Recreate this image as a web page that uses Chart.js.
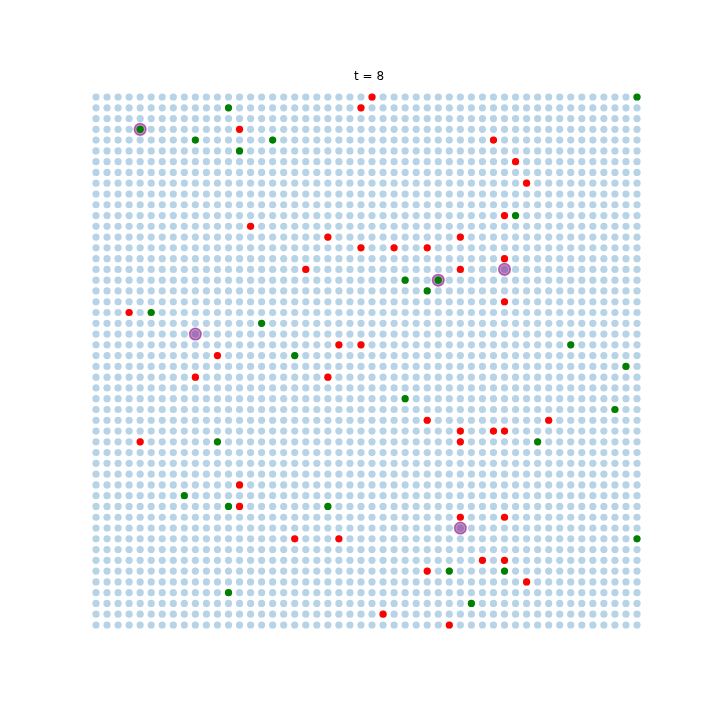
<!DOCTYPE html>
<html><head><meta charset="utf-8">
<script src="https://cdn.jsdelivr.net/npm/chart.js@4.4.0/dist/chart.umd.min.js"></script>
<style>html,body{margin:0;padding:0;background:#fff;}#wrap{width:720px;height:720px;}</style>
</head><body><div id="wrap"><canvas id="c" width="720" height="720"></canvas></div>
<script>
const titleText = "t = 8";
const gridCols = 50;
const gridRows = 50;
const redCells = [[25,0],[24,1],[13,3],[36,4],[38,6],[39,8],[37,11],[14,12],[21,13],[33,13],[24,14],[27,14],[30,14],[37,15],[19,16],[33,16],[37,19],[3,20],[22,23],[24,23],[11,24],[9,26],[21,26],[30,30],[41,30],[33,31],[36,31],[37,31],[4,32],[33,32],[13,36],[13,38],[33,39],[37,39],[18,41],[22,41],[35,43],[37,43],[30,44],[39,45],[26,48],[32,49]];
const greenCells = [[49,0],[12,1],[4,3],[9,4],[16,4],[13,5],[38,11],[28,17],[31,17],[30,18],[5,20],[15,21],[43,23],[18,24],[48,25],[28,28],[47,29],[11,32],[40,32],[8,37],[12,38],[21,38],[49,41],[32,44],[37,44],[12,46],[34,47]];
const purpleCells = [[4,3],[31,17],[37,16],[9,22],[33,40]];

const gridPts = [];
for (let r = 0; r < gridRows; r++) for (let c = 0; c < gridCols; c++) gridPts.push({x:c, y:r});
const toPts = a => a.map(p => ({x:p[0], y:p[1]}));

const titlePlugin = {
  id: 'mplTitle',
  afterDraw(chart) {
    const ctx = chart.ctx, a = chart.chartArea;
    ctx.save();
    ctx.font = '12px "DejaVu Sans"';
    ctx.fillStyle = '#000';
    ctx.textAlign = 'center';
    ctx.textBaseline = 'alphabetic';
    ctx.fillText(titleText, (a.left + a.right) / 2, a.top - 6);
    ctx.restore();
  }
};

new Chart(document.getElementById('c'), {
  type: 'scatter',
  data: { datasets: [
    { data: gridPts, backgroundColor: 'rgba(31,119,180,0.32)', borderWidth: 0, pointRadius: 3.6, order: 4 },
    { data: toPts(purpleCells), backgroundColor: 'rgba(128,0,128,0.45)', borderColor: 'rgba(128,0,128,0.55)', borderWidth: 1.5, pointRadius: 5.8, order: 3 },
    { data: toPts(redCells), backgroundColor: '#ff0000', borderWidth: 0, pointRadius: 3.6, order: 2 },
    { data: toPts(greenCells), backgroundColor: '#008000', borderWidth: 0, pointRadius: 3.6, order: 1 }
  ]},
  options: {
    responsive: false, devicePixelRatio: 1, animation: false, events: [],
    layout: { padding: { left: 90, right: 72, top: 86, bottom: 79 } },
    plugins: { legend: { display: false }, tooltip: { enabled: false }, title: { display: false } },
    scales: {
      x: { type: 'linear', display: false, min: -0.5434, max: 49.996 },
      y: { type: 'linear', display: false, reverse: true, min: -1.0208, max: 50.485 }
    }
  },
  plugins: [titlePlugin]
});
</script></body></html>
